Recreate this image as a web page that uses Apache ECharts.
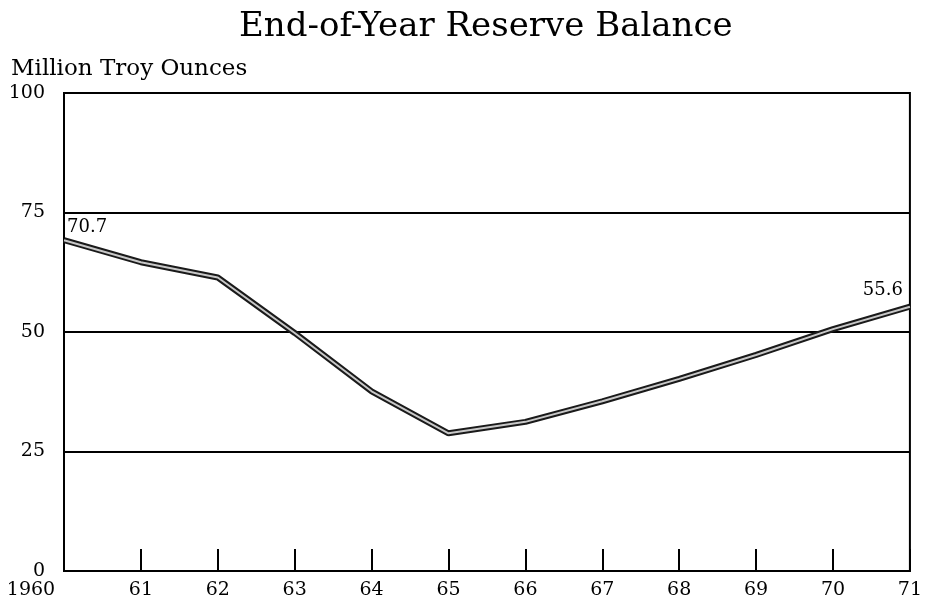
<!DOCTYPE html>
<html>
<head>
<meta charset="utf-8">
<script src="https://cdn.jsdelivr.net/npm/echarts@6/dist/echarts.min.js"></script>
<style>
    html, body { margin: 0; padding: 0; background: #fff; }
    #chart { width: 925px; height: 609px; }
</style>
</head>
<body>
<div id="chart"></div>
<script>
//年份和储备量(百万金衡盎司)
var years = [1960, 1961, 1962, 1963, 1964, 1965, 1966, 1967, 1968, 1969, 1970, 1971];
var reserve = [69.2, 64.6, 61.4, 49.8, 37.6, 28.8, 31.2, 35.5, 40.2, 45.2, 50.6, 55.3];
//两端标注的数值
var endLabels = ["70.7", "55.6"];
var yTicks = [0, 25, 50, 75, 100];

var FONT = "DejaVu Serif";

function buildData(withLabels) {
    var arr = [];
    for (var i = 0; i < years.length; i++) {
        var item = { value: [years[i], reserve[i]] };
        if (withLabels && i == 0) {
            item.label = { show: true, formatter: endLabels[0], position: "top", align: "left", offset: [3, 2] };
        }
        else if (withLabels && i == years.length - 1) {
            item.label = { show: true, formatter: endLabels[1], position: "top", align: "right", offset: [-7, -2] };
        }
        arr.push(item);
    }
    return arr;
}

var myChart = echarts.init(document.getElementById("chart"));

var option = {
    backgroundColor: "#fff",
    animation: false,
    title: [
        {
            text: "End-of-Year Reserve Balance",
            left: 234,
            top: 5,
            textStyle: { fontFamily: FONT, fontSize: 34, fontWeight: "normal", color: "#000" }
        },
        {
            text: "Million Troy Ounces",
            left: 6,
            top: 53,
            textStyle: { fontFamily: FONT, fontSize: 23, fontWeight: "normal", color: "#000" }
        }
    ],
    grid: {
        left: 64,
        right: 15,
        top: 93,
        bottom: 38,
        show: true,
        borderColor: "#000",
        borderWidth: 2
    },
    xAxis: {
        type: "value",
        min: years[0],
        max: years[years.length - 1],
        interval: 1,
        axisLine: { show: true, lineStyle: { color: "#000", width: 2 } },
        axisTick: { show: true, inside: true, length: 22, lineStyle: { color: "#000", width: 2 } },
        splitLine: { show: false },
        axisLabel: {
            margin: 10,
            fontFamily: FONT,
            fontSize: 19,
            color: "#000",
            formatter: function (v) {
                if (v == years[0]) return "{first|" + v + "}";
                return String(v).slice(2);
            },
            rich: {
                first: { fontFamily: FONT, fontSize: 19, color: "#000", padding: [0, 66, 0, 0] }
            }
        }
    },
    yAxis: {
        type: "value",
        min: yTicks[0],
        max: yTicks[yTicks.length - 1],
        interval: 25,
        axisLine: { show: true, lineStyle: { color: "#000", width: 2 } },
        axisTick: { show: false },
        splitLine: { show: true, lineStyle: { color: "#000", width: 2 } },
        axisLabel: { margin: 19, fontFamily: FONT, fontSize: 19, color: "#000" }
    },
    series: [
        {
            //外侧黑边
            type: "line",
            data: buildData(false),
            symbol: "none",
            lineStyle: { color: "#1a1a1a", width: 6 },
            z: 3
        },
        {
            //内侧浅色
            type: "line",
            data: buildData(true),
            symbol: "circle",
            symbolSize: 1,
            showSymbol: true,
            itemStyle: { color: "rgba(0,0,0,0)" },
            lineStyle: { color: "#c8c8c8", width: 2 },
            label: { show: false, fontFamily: FONT, fontSize: 18, color: "#000" },
            z: 4
        }
    ]
};

myChart.setOption(option);
</script>
</body>
</html>
